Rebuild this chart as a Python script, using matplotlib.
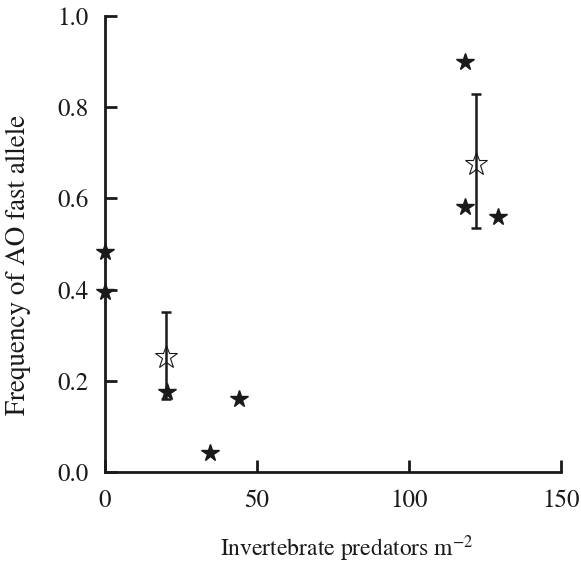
import numpy as np
import matplotlib
matplotlib.use("Agg")
import matplotlib.pyplot as plt

plt.rcParams['font.family'] = ['STIXGeneral', 'DejaVu Serif']
plt.rcParams['mathtext.fontset'] = 'stix'

# individual populations (filled stars)
pop_x = [0, 0, 20.5, 34.5, 44.2, 118.3, 118.3, 129.3]
pop_y = [0.482, 0.395, 0.175, 0.041, 0.161, 0.899, 0.580, 0.559]

# group means with error bars (open stars)
mean_x = [20.0, 122.0]
mean_y = [0.253, 0.676]
err_lo = [0.093, 0.142]
err_hi = [0.097, 0.152]

xticks = [0, 50, 100, 150]
yticks = [0.0, 0.2, 0.4, 0.6, 0.8, 1.0]

fig = plt.figure(figsize=(5.81, 5.65), dpi=100)
ax = fig.add_axes([0.1807, 0.1646, 0.785, 0.8074])

ax.errorbar(mean_x, mean_y, yerr=[err_lo, err_hi], fmt='none',
            ecolor='#1a1a1a', elinewidth=1.8, capsize=3.3, capthick=1.8, zorder=2)
ax.plot(mean_x, mean_y, linestyle='none', marker='*', markersize=17,
        markerfacecolor='none', markeredgecolor='#1a1a1a', markeredgewidth=0.8, zorder=3)
ax.plot(pop_x, pop_y, linestyle='none', marker='*', markersize=13,
        color='#1a1a1a', clip_on=False, zorder=4)

ax.set_xlim(0, 150)
ax.set_ylim(0, 1.0)
ax.set_xticks(xticks)
ax.set_yticks(yticks)
ax.set_xticklabels([str(t) for t in xticks])
ax.set_yticklabels(['%.1f' % t for t in yticks])

for s in ['top', 'right']:
    ax.spines[s].set_visible(False)
for s in ['left', 'bottom']:
    ax.spines[s].set_linewidth(2.0)
    ax.spines[s].set_color('#1a1a1a')

ax.tick_params(direction='in', length=8.5, width=2.0, color='#1a1a1a',
               labelsize=18, pad=12, labelcolor='#1a1a1a')

ax.set_xlabel(r'Invertebrate predators m$^{-2}$', fontsize=17, color='#1a1a1a')
ax.set_ylabel('Frequency of AO fast allele', fontsize=19.5, color='#1a1a1a')
ax.xaxis.set_label_coords(0.531, -0.135)
ax.yaxis.set_label_coords(-0.163, 0.454)

fig.savefig('out.png', dpi=100)
